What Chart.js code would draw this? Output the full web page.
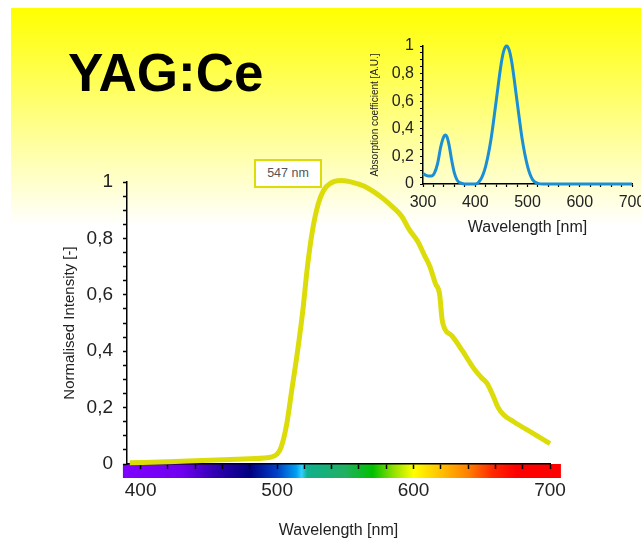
<!DOCTYPE html>
<html><head><meta charset="utf-8">
<script src="https://cdn.jsdelivr.net/npm/chart.js@4.4.1/dist/chart.umd.min.js"></script>
<style>
html,body{margin:0;padding:0;width:641px;height:540px;overflow:hidden;background:#fff;}
#bg{position:absolute;left:11px;top:8px;width:630px;height:532px;background:linear-gradient(to bottom,#ffff00 0px,#ffff80 108px,#ffffff 218px);}
#title{position:absolute;left:68px;top:46px;font:bold 53px "Liberation Sans",Arial,sans-serif;line-height:53px;color:#000;white-space:nowrap;}
#peak{position:absolute;left:254px;top:159px;width:68px;height:29px;box-sizing:border-box;border:2px solid #dcdc0a;background:#fff;font:12.5px "Liberation Sans",Arial,sans-serif;color:#555;text-align:center;line-height:25px;}
#main{position:absolute;left:0;top:0;}
#inset{position:absolute;left:360px;top:30px;}
</style></head>
<body>
<div id="bg"></div>
<div id="title">YAG:Ce</div>
<canvas id="main" width="641" height="540"></canvas>
<canvas id="inset" width="281" height="210"></canvas>
<div id="peak">547 nm</div>
<script>
// ---- data ----
const emissionWavelength = [392, 420, 450, 480, 495, 500, 503, 507, 511, 515, 519, 522, 526, 530, 534, 539, 547, 556, 564, 571, 578, 585, 591, 597, 603, 608, 612, 616, 619, 621, 623, 628, 636, 644, 650, 654, 658, 662, 666, 674, 687, 700];
const emissionIntensity  = [0.004, 0.008, 0.013, 0.019, 0.024, 0.035, 0.06, 0.14, 0.27, 0.40, 0.55, 0.69, 0.83, 0.92, 0.97, 0.995, 1.005, 0.998, 0.985, 0.965, 0.94, 0.91, 0.88, 0.83, 0.79, 0.74, 0.70, 0.64, 0.605, 0.51, 0.478, 0.455, 0.40, 0.34, 0.305, 0.285, 0.245, 0.20, 0.175, 0.148, 0.11, 0.072];

const absorptionWavelength = [300, 305, 310, 316, 322, 328, 334, 340, 343, 346, 350, 355, 360, 365, 370, 380, 400, 410, 420, 430, 440, 450, 455, 460, 465, 470, 480, 490, 500, 510, 520, 530, 550, 600, 650, 700];
const absorptionValue      = [0.075, 0.065, 0.058, 0.058, 0.08, 0.15, 0.27, 0.345, 0.355, 0.34, 0.28, 0.17, 0.08, 0.03, 0.01, 0.0, 0.0, 0.03, 0.13, 0.32, 0.60, 0.88, 0.97, 1.0, 0.97, 0.88, 0.60, 0.32, 0.13, 0.03, 0.005, 0.0, 0.0, 0.0, 0.0, 0.0];

const mainXTicks = [400, 500, 600, 700];
const mainXMinorStep = 20;
const insetXTicks = [300, 400, 500, 600, 700];
const yTickLabels = ['0', '0,2', '0,4', '0,6', '0,8', '1'];

// spectrum colour bar (decoration)
const barStart = 387, barEnd = 708;
const barStops  = [387, 430, 455, 480, 500, 514, 518, 522, 550, 570, 585, 600, 620, 640, 658, 675, 708];
const barColors = ['#7f00ff', '#7000f0', '#3000b0', '#000080', '#0040c8', '#00a0f0', '#30d0ff', '#10b090', '#20b060', '#00c000', '#90e000', '#ffff00', '#ffc000', '#ff8000', '#ff2800', '#ff0000', '#ff0000'];

const FONT = '"Liberation Sans", Arial, sans-serif';

function yLabel(v){
  const k = Math.round(v * 100);
  if (k % 20 !== 0) return '';
  return yTickLabels[k / 20];
}

const colorBarPlugin = {
  id: 'colorBar',
  beforeDraw(chart){
    const xs = chart.scales.x, area = chart.chartArea, ctx = chart.ctx;
    const x0 = xs.getPixelForValue(barStart), x1 = xs.getPixelForValue(barEnd);
    const g = ctx.createLinearGradient(x0, 0, x1, 0);
    barStops.forEach((nm, i) => g.addColorStop((nm - barStart) / (barEnd - barStart), barColors[i]));
    ctx.save();
    ctx.fillStyle = g;
    ctx.fillRect(x0, area.bottom, x1 - x0, 14);
    ctx.restore();
  }
};

new Chart(document.getElementById('main'), {
  type: 'line',
  data: { datasets: [{
    data: emissionWavelength.map((x, i) => ({x, y: emissionIntensity[i]})),
    borderColor: '#dcdc0a', borderWidth: 5, pointRadius: 0, cubicInterpolationMode: 'monotone', fill: false, clip: 12
  }]},
  plugins: [colorBarPlugin],
  options: {
    responsive: false, animation: false,
    layout: { padding: { left: 50, right: 91, top: 182, bottom: 0 } },
    plugins: { legend: { display: false }, tooltip: { enabled: false } },
    scales: {
      x: {
        type: 'linear', min: 390, max: 700,
        afterBuildTicks: s => {
          const t = [];
          for (let v = mainXTicks[0]; v <= mainXTicks[mainXTicks.length - 1]; v += mainXMinorStep) t.push({ value: v });
          s.ticks = t;
        },
        ticks: { autoSkip: false, maxRotation: 0, padding: 10, color: '#222', font: { family: FONT, size: 19 },
                 callback: v => mainXTicks.includes(v) ? String(v) : '' },
        grid: { drawOnChartArea: false, tickLength: 5, color: '#000', tickWidth: 1.5 },
        border: { color: '#000', width: 1.5 },
        title: { display: true, text: 'Wavelength [nm]', color: '#222', font: { family: FONT, size: 16 }, padding: { top: 0, bottom: 0 } },
        afterFit: s => { s.height = 76; s.paddingLeft = 0; s.paddingRight = 0; }
      },
      y: {
        type: 'linear', min: 0, max: 1,
        ticks: { stepSize: 0.05, autoSkip: false, padding: 10, color: '#222', font: { family: FONT, size: 19 }, callback: yLabel },
        grid: { drawOnChartArea: false, tickLength: 4, color: '#000', tickWidth: 1.5 },
        border: { color: '#000', width: 1.5 },
        title: { display: true, text: 'Normalised Intensity [-]', color: '#222', font: { family: FONT, size: 15 }, padding: { top: 11, bottom: 0 } },
        afterFit: s => { s.width = 77; s.paddingTop = 0; s.paddingBottom = 0; }
      }
    }
  }
});

new Chart(document.getElementById('inset'), {
  type: 'line',
  data: { datasets: [{
    data: absorptionWavelength.map((x, i) => ({x, y: absorptionValue[i]})),
    borderColor: '#1b8fd6', borderWidth: 3, pointRadius: 0, cubicInterpolationMode: 'monotone', fill: false, clip: 8
  }]},
  options: {
    responsive: false, animation: false,
    layout: { padding: { left: 0, right: 9, top: 16, bottom: 0 } },
    plugins: { legend: { display: false }, tooltip: { enabled: false } },
    scales: {
      x: {
        type: 'linear', min: 300, max: 700,
        ticks: { stepSize: 20, autoSkip: false, maxRotation: 0, padding: 6, color: '#222', font: { family: FONT, size: 16 },
                 callback: v => insetXTicks.includes(v) ? String(v) : '' },
        grid: { drawOnChartArea: false, tickLength: 3, color: '#000', tickWidth: 1.2 },
        border: { color: '#000', width: 1.5 },
        title: { display: true, text: 'Wavelength [nm]', color: '#222', font: { family: FONT, size: 16 }, padding: { top: 0, bottom: 3 } },
        afterFit: s => { s.height = 56; s.paddingLeft = 0; s.paddingRight = 0; }
      },
      y: {
        type: 'linear', min: 0, max: 1,
        ticks: { stepSize: 0.05, autoSkip: false, padding: 6, color: '#222', font: { family: FONT, size: 16 }, callback: yLabel },
        grid: { drawOnChartArea: false, tickLength: 3, color: '#000', tickWidth: 1.2 },
        border: { color: '#000', width: 1.5 },
        title: { display: true, text: 'Absorption coefficient [A.U.]', color: '#222', font: { family: FONT, size: 10 }, padding: { top: 9, bottom: 0 } },
        afterFit: s => { s.width = 63; s.paddingTop = 0; s.paddingBottom = 0; }
      }
    }
  }
});
</script>
</body></html>
